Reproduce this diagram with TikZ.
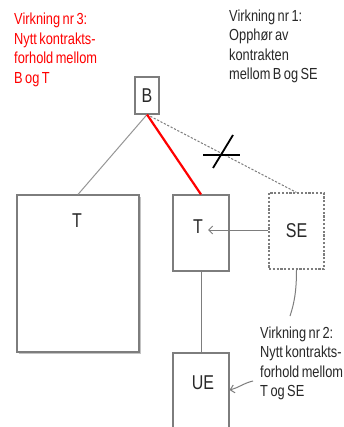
\documentclass[tikz,border=0pt]{standalone}
\usepackage{fontspec}
\newfontfamily\narrowfont{Liberation Sans}[FakeStretch=0.8, WordSpace=0.7]
\usetikzlibrary{arrows.meta}
\definecolor{boxgray}{RGB}{125,125,125}
\definecolor{linkgray}{RGB}{150,150,150}
\definecolor{labelink}{RGB}{40,40,40}
\definecolor{shadowgray}{RGB}{195,195,195}
\definecolor{notered}{RGB}{255,0,0}

\tikzset{
  party/.style={draw=boxgray, line width=1.1pt, rectangle, inner sep=0pt},
  formerparty/.style={party, dashed, dash pattern=on 2.2pt off 1.6pt},
  boxlabel/.style={font=\narrowfont\fontsize{20}{22}\selectfont, text=labelink, inner sep=0pt},
  note/.style={font=\narrowfont\fontsize{16}{19.5}\selectfont, align=left, inner sep=0pt, anchor=north west},
  link/.style={draw=linkgray, line width=1pt},
  newlink/.style={draw=notered, line width=2.2pt},
  oldlink/.style={draw=boxgray, line width=1pt, dash pattern=on 2.2pt off 1.6pt},
  pointer/.style={draw=boxgray, line width=1pt, -{Straight Barb[length=4pt,width=8pt]}},
  cut/.style={draw=black, line width=1.8pt}
}

\begin{document}
\begin{tikzpicture}[x=1pt,y=-1pt]
  \clip (0,0) rectangle (344,427);
  \fill[white] (0,0) rectangle (344,427);

  % parties
  \node[party, minimum width=24pt, minimum height=37pt] (b) at (147,95.5) {};
  \node[boxlabel] (blabel) at (147,96) {B};

  \draw[draw=shadowgray, line width=1.6pt] (18.5,353.6) -- (140.6,353.6) -- (140.6,197);
  \node[party, minimum width=122pt, minimum height=157pt] (tl) at (78,273.5) {};
  \node[boxlabel] (tllabel) at (77,221) {T};

  \node[party, minimum width=56pt, minimum height=76pt] (tm) at (201,233) {};
  \node[boxlabel] (tmlabel) at (198,226.5) {T};

  \node[formerparty, minimum width=55pt, minimum height=76pt] (se) at (296.5,231) {};
  \node[boxlabel] (selabel) at (296.5,231) {SE};

  \node[party, minimum width=56pt, minimum height=110pt] (ue) at (201,408) {};
  \node[boxlabel] (uelabel) at (203,383) {UE};

  % contract lines from B
  \draw[link] (b.south) -- (tl.north);
  \draw[oldlink] (b.south) -- (se.north);
  \draw[newlink] (b.south) -- (tm.north);

  % crossed-out mark on the terminated contract
  \coordinate (cutl) at (203,155);
  \coordinate (cutr) at (240,155);
  \coordinate (cutlo) at (213,168);
  \coordinate (cuthi) at (233,135);
  \draw[cut] (cutl) -- (cutr);
  \draw[cut] (cutlo) -- (cuthi);

  % SE steps in under T, T keeps UE
  \coordinate (tmin) at (208,230);
  \draw[pointer] (se.west |- tmin) -- (tmin);
  \draw[link, draw=boxgray] (tm.south) -- (tm.south |- ue.north);

  % notes
  \node[note, text=notered] (v3) at (14,13)
    {Virkning nr 3:\\Nytt kontrakts-\\forhold mellom\\B og T};
  \node[note, text=labelink] (v1) at (229,9.5)
    {Virkning nr 1:\\Opphør av\\kontrakten\\mellom B og SE};
  \node[note, text=labelink] (v2) at (260,326.5)
    {Virkning nr 2:\\Nytt kontrakts-\\forhold mellom\\T og SE};

  % note pointers
  \draw[link, draw=boxgray] (se.south) .. controls (296.5,292) and (294,304) .. (290,316);
  \coordinate (v2tip) at (253,381);
  \draw[pointer] (v2tip) .. controls (244,383) and (238,388) .. (ue.east |- 0,390);
\end{tikzpicture}
\end{document}
